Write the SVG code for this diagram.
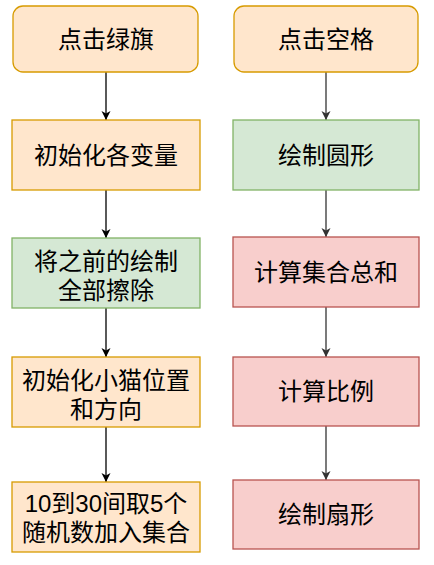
<svg xmlns="http://www.w3.org/2000/svg" width="434" height="565" viewBox="0 0 434 565">
  <style>
    .o { fill: #ffe6cc; stroke: #d79b00; stroke-width: 1.3; }
    .g { fill: #d5e8d4; stroke: #82b366; stroke-width: 1.3; }
    .r { fill: #f8cecc; stroke: #b85450; stroke-width: 1.3; }
    text { font-family: "Liberation Sans", "Noto Sans CJK SC", sans-serif; font-size: 24px; fill: #000; text-anchor: middle; }
    .lk { stroke: #000; stroke-width: 1.3; fill: none; marker-end: url(#ak); }
    .rk { stroke: #333; stroke-width: 1.3; fill: none; marker-end: url(#ag); }
  </style>
  <defs>
    <marker id="ak" markerUnits="userSpaceOnUse" markerWidth="12" markerHeight="12" refX="10" refY="5" orient="auto">
      <path d="M1,0.5 L10,5 L1,9.5 L3.5,5 Z" fill="#000"/>
    </marker>
    <marker id="ag" markerUnits="userSpaceOnUse" markerWidth="12" markerHeight="12" refX="10" refY="5" orient="auto">
      <path d="M1,0.5 L10,5 L1,9.5 L3.5,5 Z" fill="#333"/>
    </marker>
  </defs>
  <rect width="434" height="565" fill="#fff"/>
  <g id="connectors">
    <path class="lk" d="M106,72 V120"/>
    <path class="lk" d="M106,190 V238"/>
    <path class="lk" d="M106,308 V357"/>
    <path class="lk" d="M106,427 V482"/>
    <path class="rk" d="M326,72 V120"/>
    <path class="rk" d="M326,190 V237"/>
    <path class="rk" d="M326,307 V357"/>
    <path class="rk" d="M326,426 V480"/>
  </g>
  <g id="n1"><rect class="o" x="13" y="6" width="185" height="66" rx="10"/><text x="106" y="48">点击绿旗</text></g>
  <g id="n2"><rect class="o" x="12" y="120" width="188" height="70"/><text x="106" y="164">初始化各变量</text></g>
  <g id="n3"><rect class="g" x="12" y="238" width="188" height="70"/><text x="106" y="270">将之前的绘制</text><text x="106" y="299">全部擦除</text></g>
  <g id="n4"><rect class="o" x="12" y="357" width="188" height="70"/><text x="106" y="389">初始化小猫位置</text><text x="106" y="418">和方向</text></g>
  <g id="n5"><rect class="o" x="12" y="482" width="188" height="70"/><text x="106" y="512">10到30间取5个</text><text x="106" y="541">随机数加入集合</text></g>
  <g id="m1"><rect class="o" x="234" y="6" width="184" height="66" rx="10"/><text x="326" y="48">点击空格</text></g>
  <g id="m2"><rect class="g" x="233" y="120" width="186" height="70"/><text x="326" y="164">绘制圆形</text></g>
  <g id="m3"><rect class="r" x="233" y="237" width="186" height="70"/><text x="326" y="281">计算集合总和</text></g>
  <g id="m4"><rect class="r" x="233" y="357" width="186" height="69"/><text x="326" y="400">计算比例</text></g>
  <g id="m5"><rect class="r" x="233" y="480" width="186" height="69"/><text x="326" y="523">绘制扇形</text></g>
</svg>
